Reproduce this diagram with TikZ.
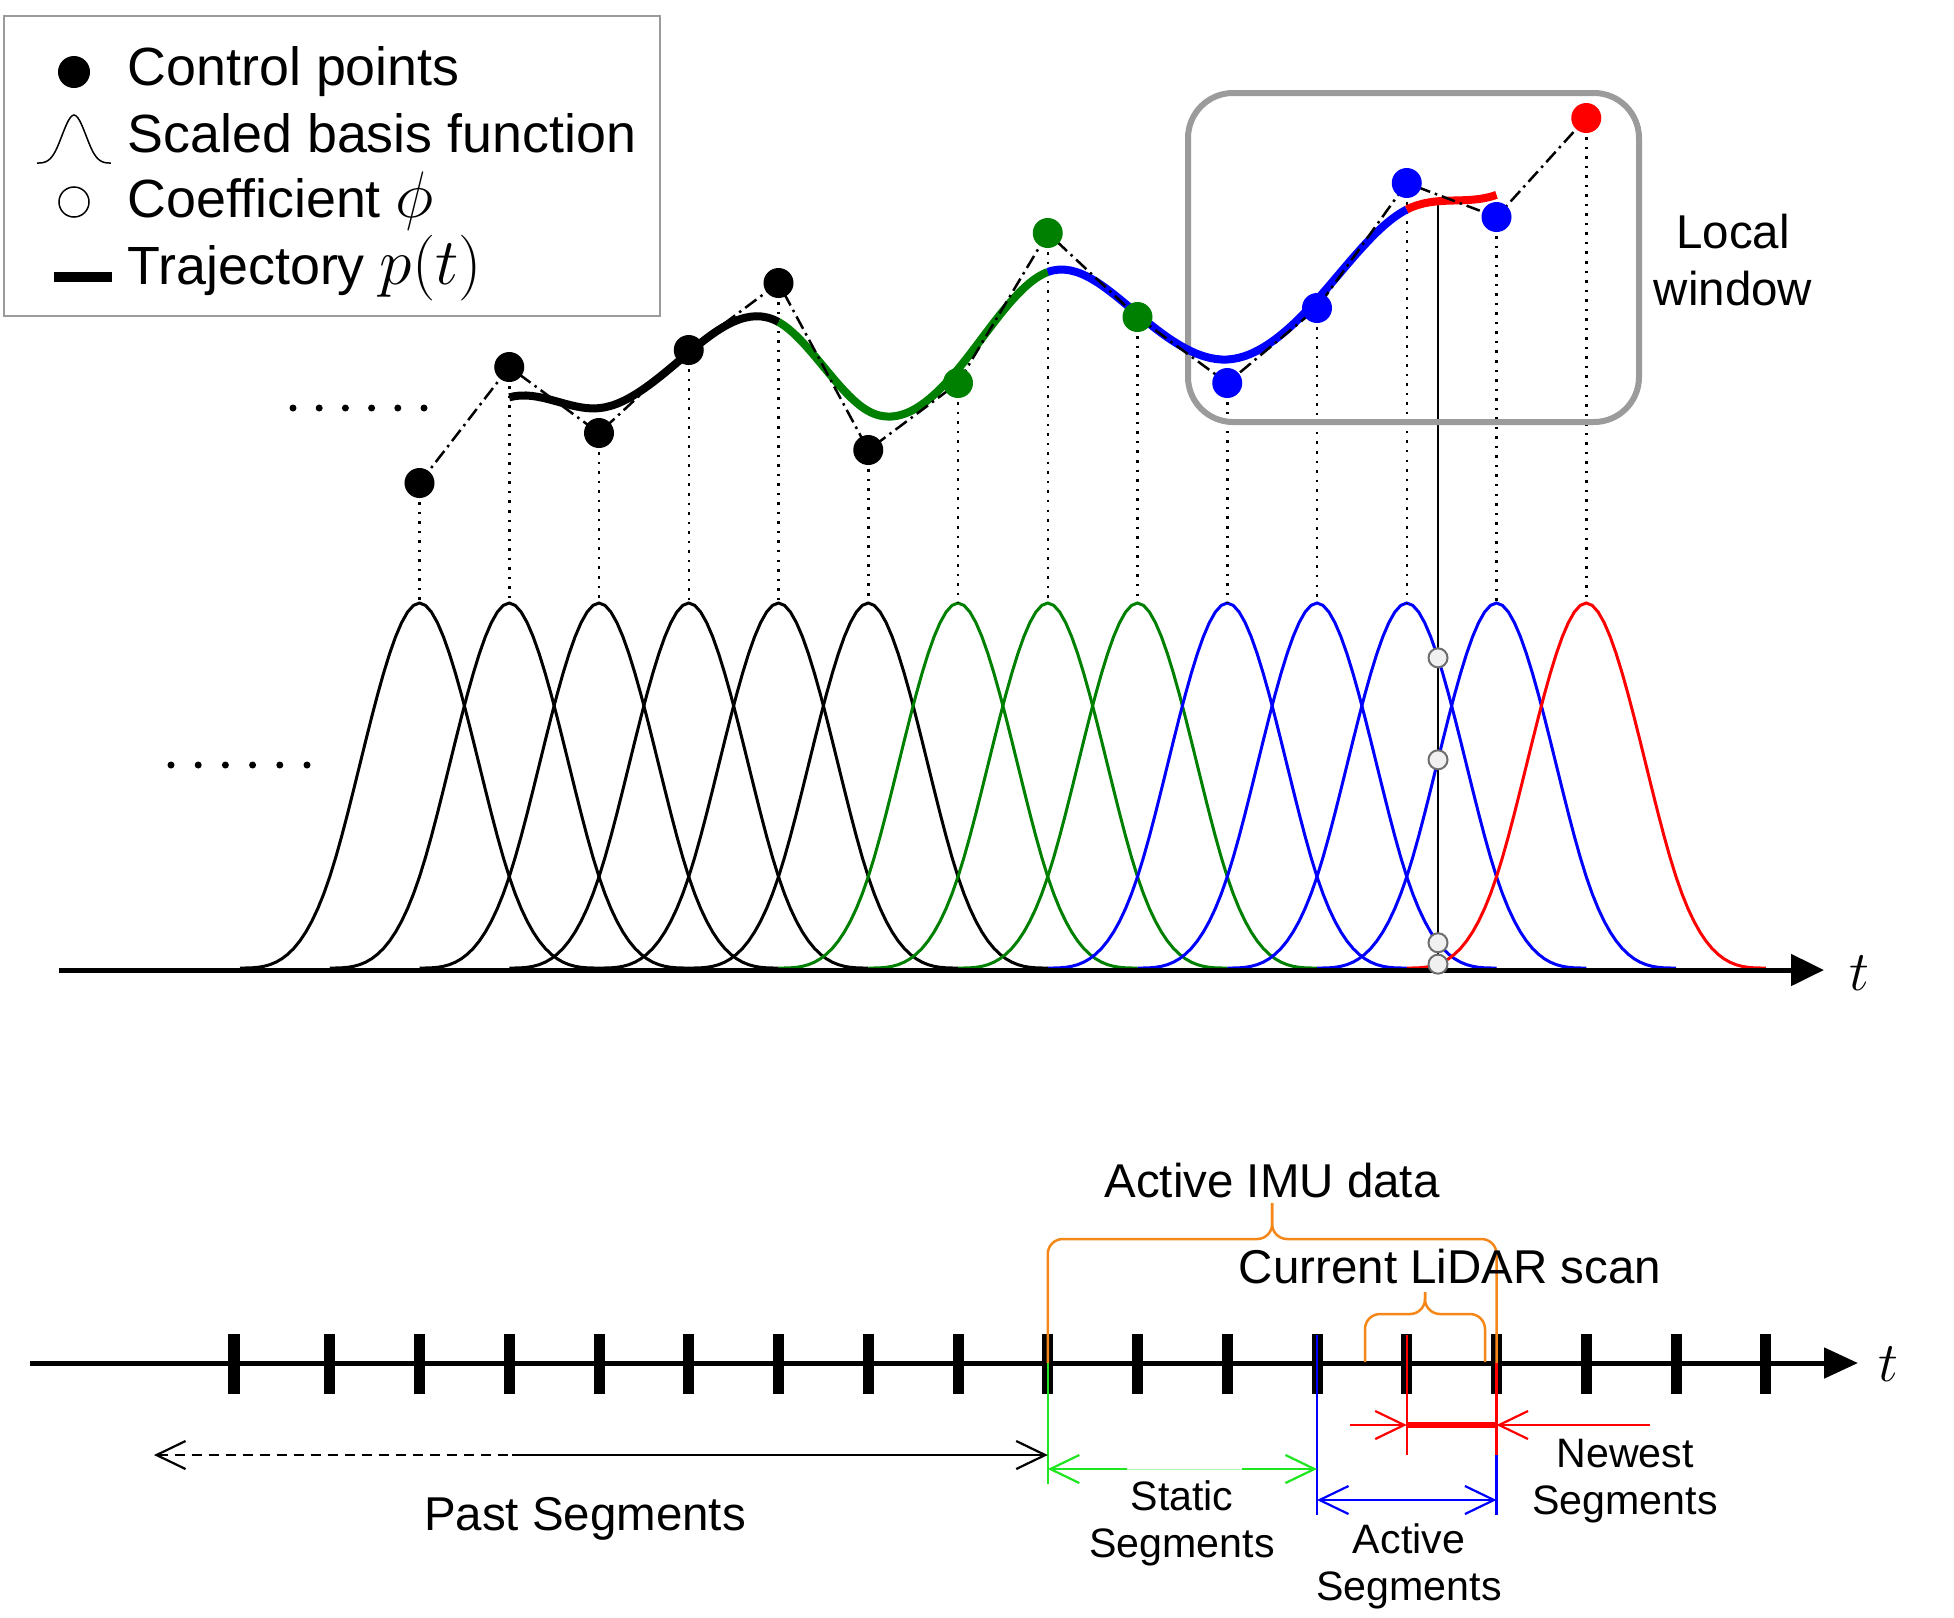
\RequirePackage{fix-cm}
\documentclass[tikz,border=0pt]{standalone}
\usepackage[no-math]{fontspec}
\setmainfont{Liberation Sans}
\usetikzlibrary{arrows.meta,calc,positioning}
\definecolor{ptgreen}{RGB}{0,128,0}
\definecolor{staticgreen}{RGB}{30,230,30}
\definecolor{imuorange}{RGB}{245,135,25}
\definecolor{framegray}{RGB}{155,155,155}
\definecolor{coefgray}{RGB}{110,110,110}
\definecolor{coeffill}{RGB}{240,240,240}
\tikzset{>={Straight Barb[length=0.29cm,width=0.28cm]},
	declare function={bsp(\s)=(abs(\s)<1)*(1-1.5*\s*\s+0.75*abs(\s)^3)+(abs(\s)>=1)*(abs(\s)<2)*0.25*(2-abs(\s))^3;},
	ctrlpt/.style={circle, inner sep=0pt, minimum size=0.30cm},
	coefpt/.style={circle, draw=coefgray, fill=coeffill, line width=0.02cm, inner sep=0pt, minimum size=0.19cm},
	basis/.style={line width=0.03cm},
	guide/.style={dotted, line width=0.025cm},
	polyline/.style={line width=0.025cm, dash pattern=on 0.14cm off 0.05cm on 0.025cm off 0.05cm},
	trajectory/.style={line width=0.08cm},
	timeaxis/.style={line width=0.05cm, -{Triangle[length=0.33cm,width=0.31cm]}},
	knot/.style={line width=0.11cm},
	segline/.style={line width=0.022cm},
	brace/.style={imuorange, line width=0.025cm, rounded corners=0.15cm},
	legendtext/.style={anchor=base west, inner sep=0pt, font=\fontsize{15.3}{18}\selectfont},
	bigtext/.style={inner sep=0pt, align=center, font=\fontsize{13.5}{16.2}\selectfont},
	smalltext/.style={inner sep=0pt, align=center, font=\fontsize{11.7}{13.4}\selectfont},
	tlabel/.style={inner sep=0pt, font=\fontsize{16}{16}\selectfont}}
\newcommand{\legmath}[1]{{\fontsize{18.7}{18.7}\selectfont$#1$}}
\newcommand{\spanbrace}[4]{%
	\coordinate (brM) at ($(#1)!.5!(#2)$);
	\draw[brace] (#1) -- (#1 |- 0,#3) -- (brM |- 0,#3) -- (brM |- 0,#4);
	\draw[brace] (#2) -- (#2 |- 0,#3) -- (brM |- 0,#3) -- (brM |- 0,#4);}

\begin{document}
\begin{tikzpicture}[x=0.01cm, y=-0.01cm]
	\useasboundingbox (0,0) rectangle (1954,1617);
	\def\dx{89.75}
	\foreach \i/\cy in {0/483,1/367,2/433,3/350,4/283,5/450,6/383,7/233,8/317,9/383,10/308,11/183,12/217,13/118}
		\coordinate (c\i) at ({419.5+\dx*\i},\cy);
	\foreach \i/\col in {0/black,1/black,2/black,3/black,4/black,5/black,6/ptgreen,7/ptgreen,8/ptgreen,9/blue,10/blue,11/blue,12/blue,13/red}
		\draw[basis,\col] plot[domain=-2:2, samples=61, variable=\u] ({419.5+\dx*(\i+\u)},{968-365*bsp(\u)});
	\draw[timeaxis] (59,970) -- (1824,970);
	\node[tlabel] (ttop) at (1859,973) {$t$};
	\coordinate (now) at (1438,202);
	\draw[line width=0.027cm] (now) -- (now |- 0,970);
	\foreach \i in {10,...,13}
		\node[coefpt] (phi\i) at (1438,{968-365*bsp((1438-419.5)/\dx-\i)}) {};
	\foreach \i in {0,...,13}
		\draw[guide] (c\i) -- (c\i |- 0,603);
	\draw[framegray, line width=0.06cm, rounded corners=0.45cm] (1188,93) rectangle (1639,422);
	\node[bigtext, anchor=north] (winlabel) at (1733,213) {Local\\window};
	\foreach \i [evaluate=\i as \h using int(\i-1), evaluate=\i as \j using int(\i+1)] in {1,...,12} {
		\coordinate (m\i) at ($(c\h)!.5!(c\j)$);
		\coordinate (k\i) at ($(c\i)!1/3!(m\i)$);
	}
	\draw[trajectory] (k1) \foreach \i/\j in {1/2,2/3,3/4} { .. controls ($(c\i)!1/3!(c\j)$) and ($(c\i)!2/3!(c\j)$) .. (k\j) };
	\draw[trajectory, ptgreen] (k4) \foreach \i/\j in {4/5,5/6,6/7} { .. controls ($(c\i)!1/3!(c\j)$) and ($(c\i)!2/3!(c\j)$) .. (k\j) };
	\draw[trajectory, blue] (k7) \foreach \i/\j in {7/8,8/9,9/10,10/11} { .. controls ($(c\i)!1/3!(c\j)$) and ($(c\i)!2/3!(c\j)$) .. (k\j) };
	\draw[trajectory, red] (k11) .. controls ($(c11)!1/3!(c12)$) and ($(c11)!2/3!(c12)$) .. (k12);
	\draw[polyline] (c0) \foreach \i in {1,...,13} { -- (c\i) };
	\foreach \i/\col in {0/black,1/black,2/black,3/black,4/black,5/black,6/ptgreen,7/ptgreen,8/ptgreen,9/blue,10/blue,11/blue,12/blue,13/red}
		\node[ctrlpt, fill=\col] (cp\i) at (c\i) {};
	\foreach \k in {0,...,5} {
		\fill (293+26.2*\k,408) circle (0.035cm);
		\fill (171+27.2*\k,765) circle (0.035cm);
	}
	\draw[framegray, line width=0.025cm] (4,16) rectangle (660,316);
	\node[ctrlpt, fill=black, minimum size=0.32cm] (lgdot) at (74,72) {};
	\draw[line width=0.015cm] plot[domain=-2:2, samples=41, variable=\u] ({74+18.5*\u},{163-48*bsp(\u)});
	\node[circle, draw, line width=0.015cm, inner sep=0pt, minimum size=0.30cm] (lgcoef) at (74,202) {};
	\draw[line width=0.10cm] (54,277) -- (112,277);
	\node[legendtext] (lgctrl) at (127,85) {Control points};
	\node[legendtext] (lgbasis) at (127,152) {Scaled basis function};
	\node[legendtext] (lgphi) at (127,217) {Coefficient \legmath{\phi}};
	\node[legendtext] (lgtraj) at (127,284) {Trajectory \legmath{p(t)}};
	\draw[timeaxis, -{Triangle[length=0.34cm,width=0.30cm]}] (30,1363) -- (1858,1363);
	\node[tlabel] (tbot) at (1888,1364) {$t$};
	\draw[knot] (234,1334) -- (234,1394);
	\foreach \k in {-1,...,15} {
		\coordinate (b\k) at ({419.5+\dx*\k},1363);
		\draw[knot] (b\k |- 0,1334) -- (b\k |- 0,1394);
	}
	\draw[segline, staticgreen] (b7) -- (b7 |- 0,1484);
	\draw[segline, blue] (b10 |- 0,1335) -- (b10 |- 0,1515);
	\draw[segline, red] (b11 |- 0,1335) -- (b11 |- 0,1455);
	\draw[segline, red] (b12) -- (b12 |- 0,1455);
	\draw[segline, blue] (b12 |- 0,1455) -- (b12 |- 0,1515);
	\spanbrace{b7}{b12}{1239}{1203}
	\coordinate (scanL) at (1365,1362);
	\coordinate (scanR) at (1485,1362);
	\spanbrace{scanL}{scanR}{1314}{1292}
	\node[bigtext, anchor=base] (imulabel) at (1272,1197) {Active IMU data};
	\node[bigtext, anchor=base] (scanlabel) at (1450,1283) {Current LiDAR scan};
	\coordinate (pastTail) at (154,1455);
	\coordinate (pastSolid) at (512,1455);
	\draw[segline, dash pattern=on 0.1cm off 0.07cm, <-] (pastTail) -- (pastSolid);
	\draw[segline, ->] (pastSolid) -- (b7 |- pastSolid);
	\node[bigtext, anchor=base] (pastlabel) at (585,1530) {Past Segments};
	\coordinate (staticA) at (1127,1469);
	\coordinate (staticB) at (1242,1469);
	\draw[segline, staticgreen, ->] (staticA) -- (b7 |- staticA);
	\draw[segline, staticgreen, ->] (staticB) -- (b10 |- staticB);
	\draw[line width=0.01cm, staticgreen!35] (staticA) -- (staticB);
	\node[smalltext, anchor=north] (staticlabel) at (1182,1480) {Static\\Segments};
	\draw[segline, blue, <->] (b10 |- 0,1500) -- (b12 |- 0,1500);
	\node[smalltext, anchor=north] (activelabel) at (1409,1523) {Active\\Segments};
	\coordinate (newA) at (1350,1425);
	\coordinate (newB) at (1650,1425);
	\draw[segline, red, ->] (newA) -- (b11 |- newA);
	\draw[red, line width=0.055cm] (b11 |- newA) -- (b12 |- newA);
	\draw[segline, red, ->] (newB) -- (b12 |- newA);
	\node[smalltext, anchor=north] (newlabel) at (1625,1438) {Newest\\Segments};
\end{tikzpicture}
\end{document}
